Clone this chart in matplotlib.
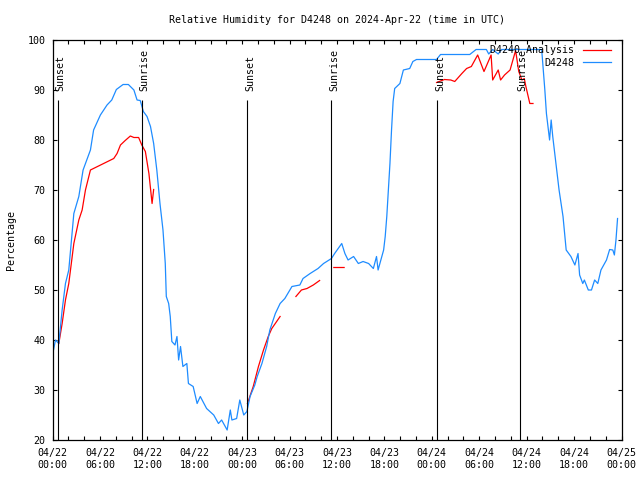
import numpy as np
import matplotlib
matplotlib.use("Agg")
import matplotlib.pyplot as plt
from matplotlib.ticker import MultipleLocator

nan = np.nan

# hours since 2024-04-22 00:00 UTC
obs_hours = [0.0, 0.38, 0.8, 1.22, 1.64, 2.06, 2.7, 3.33, 3.87, 4.8, 5.2, 6.06, 6.9, 7.5,
             8.08, 8.93, 9.6, 10.3, 10.7, 11.1, 11.5, 11.96, 12.4, 12.8, 13.2, 13.6, 13.98,
             14.27, 14.4, 14.7, 14.9, 15.1, 15.5, 15.75, 15.96, 16.2, 16.5, 17.0, 17.2, 17.8,
             18.3, 18.7, 19.5, 20.4, 21.0, 21.4, 22.1, 22.5, 22.7, 23.3, 23.7, 24.2, 24.6,
             25.0, 25.6, 25.9, 26.5, 27.1, 27.5, 28.2, 28.8, 29.4, 30.3, 31.3, 31.7, 32.6,
             33.6, 34.3, 35.3, 35.7, 36.6, 37.0, 37.4, 38.1, 38.7, 39.3, 40.0, 40.6, 41.0,
             41.2, 41.9, 42.1, 42.3, 42.7, 42.9, 43.1, 43.3, 43.96, 44.4, 45.2, 45.6, 46.06,
             48.6, 49.1, 52.8, 53.6, 54.9, 55.2, 55.7, 56.4, 56.8, 61.9, 62.3, 62.5, 62.9,
             63.1, 63.3, 63.7, 64.1, 64.6, 65.0, 65.6, 66.1, 66.5, 66.7, 67.1, 67.3, 67.8,
             68.2, 68.6, 69.0, 69.4, 70.1, 70.5, 70.9, 71.1, 71.3, 71.5]
obs_rh = [37.0, 40.0, 39.3, 46.0, 51.3, 54.0, 65.3, 68.7, 74.0, 78.0, 82.0, 85.0, 87.0, 88.0,
          90.1, 91.1, 91.1, 90.0, 88.0, 87.9, 85.7, 84.7, 82.7, 79.3, 74.0, 67.3, 62.0,
          55.3, 48.7, 47.3, 44.7, 39.7, 39.0, 40.7, 36.0, 38.7, 34.7, 35.3, 31.3, 30.7,
          27.3, 28.7, 26.3, 25.0, 23.3, 24.0, 22.0, 26.0, 24.0, 24.3, 28.0, 25.0, 25.7,
          28.7, 31.0, 32.7, 35.3, 38.7, 42.0, 45.3, 47.3, 48.3, 50.7, 51.0, 52.3, 53.3,
          54.3, 55.3, 56.3, 57.3, 59.3, 57.3, 56.0, 56.7, 55.3, 55.7, 55.3, 54.3, 56.7,
          54.0, 58.0, 60.7, 64.7, 75.3, 82.0, 87.7, 90.3, 91.3, 94.0, 94.3, 95.7, 96.1,
          96.1, 97.1, 97.1, 98.1, 98.1, 97.2, 98.1, 97.2, 98.1, 98.1, 90.0, 85.3, 80.0,
          84.0, 80.7, 75.3, 70.0, 64.7, 58.0, 56.7, 55.0, 57.3, 53.0, 51.3, 52.0, 50.0,
          50.0, 52.0, 51.3, 54.0, 56.0, 58.1, 58.0, 57.0, 60.0, 64.3]

# analysis series, NaN marks a gap
ana_hours = [0.8, 1.22, 1.64, 2.06, 2.7, 3.33, 3.75, 4.17, 4.8, 7.75, 8.17, 8.6, 9.2, 9.85,
             10.3, 10.9, 11.3, 11.75, 12.2, 12.6, 12.8, nan,
             24.67, 25.4, 26.06, 26.7, 27.3, 27.75, 28.8, nan,
             30.8, 31.5, 32.2, 33.0, 33.8, nan,
             35.6, 36.9, nan,
             48.6, 49.6, 50.4, 50.9, 51.8, 52.4, 53.0, 53.8, 54.6, 55.5, 55.7, 56.4, 56.7,
             57.2, 57.9, 58.6, 59.0, 59.4, 59.7, 59.9, 60.4, 60.8]
ana_rh = [39.3, 43.3, 48.0, 51.3, 59.3, 64.0, 66.0, 70.0, 74.0, 76.3, 77.3, 79.0, 79.9, 80.8,
          80.5, 80.5, 79.0, 77.7, 73.3, 67.3, 70.1, nan,
          27.3, 30.7, 34.7, 38.0, 40.7, 42.3, 44.7, nan,
          48.7, 50.0, 50.3, 51.0, 51.9, nan,
          54.5, 54.5, nan,
          91.5, 92.1, 92.0, 91.7, 93.3, 94.3, 94.7, 97.0, 93.7, 97.0, 92.0, 94.0, 92.0,
          93.0, 94.0, 97.9, 93.7, 92.0, 92.3, 90.7, 87.3, 87.3]

sun_hours = [0.67, 11.28, 24.67, 35.28, 48.67, 59.15]
sun_labels = ["Sunset", "Sunrise", "Sunset", "Sunrise", "Sunset", "Sunrise"]

tick_hours = list(range(0, 73, 6))
tick_labels = ["04/22\n00:00", "04/22\n06:00", "04/22\n12:00", "04/22\n18:00",
               "04/23\n00:00", "04/23\n06:00", "04/23\n12:00", "04/23\n18:00",
               "04/24\n00:00", "04/24\n06:00", "04/24\n12:00", "04/24\n18:00",
               "04/25\n00:00"]

plt.rcParams["font.family"] = ["DejaVu Sans Mono"]
plt.rcParams["font.size"] = 7.2

fig = plt.figure(figsize=(6.4, 4.8), dpi=100)
ax = fig.add_axes([52.5 / 640, 40 / 480, 569 / 640, 400 / 480])

ax.plot(ana_hours, ana_rh, color="#ff0000", linewidth=0.9, label="D4240 Analysis")
ax.plot(obs_hours, obs_rh, color="#1e8cff", linewidth=0.9, label="D4248")

for t, lab in zip(sun_hours, sun_labels):
    ax.vlines(t, 20, 88, color="black", linewidth=0.8)
    ax.annotate(lab, (t, 89.7), xytext=(2, 0), textcoords="offset points",
                rotation=90, ha="center", va="bottom")

ax.set_xlim(0, 72)
ax.set_ylim(20, 100)
ax.set_xticks(tick_hours)
ax.set_xticklabels(tick_labels)
ax.xaxis.set_minor_locator(MultipleLocator(2))
ax.yaxis.set_major_locator(MultipleLocator(10))
ax.tick_params(which="both", direction="in", top=True, right=True, length=3, width=0.8)
ax.tick_params(axis="x", pad=6)
ax.tick_params(axis="y", pad=5)
for s in ax.spines.values():
    s.set_linewidth(0.9)

ax.set_title("Relative Humidity for D4248 on 2024-Apr-22 (time in UTC)",
             fontsize=7.2, pad=12)
ax.set_ylabel("Percentage", labelpad=8)

ax.legend(loc="upper right", bbox_to_anchor=(1, 1.015), frameon=False, markerfirst=False,
          handlelength=2.8, handletextpad=0.8, labelspacing=0.25, borderaxespad=0.9,
          borderpad=0.2)

fig.savefig("out.png", dpi=100)
